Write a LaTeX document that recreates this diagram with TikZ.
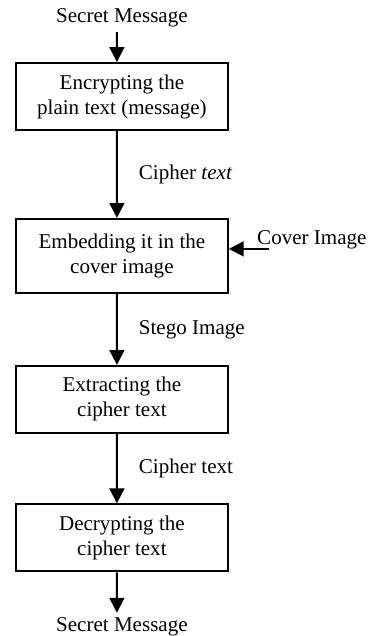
\documentclass[tikz,border=0pt]{standalone}
\usepackage{fontspec}
\setmainfont{Liberation Serif}
\usetikzlibrary{arrows.meta,positioning}

\begin{document}
\begin{tikzpicture}[
      every node/.style={inner sep=0pt,font=\fontsize{12}{14.25}\selectfont},
      box/.style={draw,line width=1.1pt,minimum width=120.8pt,minimum height=38.2pt,align=center},
      msg/.style={inner sep=2.5pt},
      lbl/.style={right=12pt},
      arr/.style={line width=1.1pt,-{Triangle[width=8.5pt,length=8.5pt]}},
      grow=down,
      level 1/.style={level distance=44.7pt},
      level 2/.style={level distance=90.9pt},
      level 3/.style={level distance=81.8pt},
      level 4/.style={level distance=78.9pt},
      level 5/.style={level distance=50.7pt},
      edge from parent/.style={draw,arr},
      edge from parent path={([xshift=-2.85pt]\tikzparentnode.south) -- ([xshift=-2.85pt]\tikzchildnode.north)}
    ]
      \useasboundingbox (-69.5pt,10.3pt) rectangle (140.2pt,-352.3pt);
      \node[msg] (src) {Secret Message}
        child {node[box] (enc) {Encrypting the\\plain text (message)}
          child {node[box,minimum height=42.2pt] (emb) {Embedding it in the\\cover image}
            child {node[box] (ext) {Extracting the\\cipher text}
              child {node[box] (dec) {Decrypting the\\cipher text}
                child {node[msg] (out) {Secret Message}}
                edge from parent node[lbl] {Cipher text}
              }
              edge from parent node[lbl] {Stego Image}
            }
            edge from parent node[lbl] {Cipher \textit{text}}
          }
        }
      ;
      % cover image goes into the embedding step
      \node[anchor=west] (cov) at ([xshift=16pt,yshift=9pt]emb.east) {Cover Image};
      \coordinate (covtail) at ([xshift=22.8pt,yshift=4pt]emb.east);
      \draw[arr] (covtail) -- (covtail -| emb.east);
    \end{tikzpicture}
\end{document}
